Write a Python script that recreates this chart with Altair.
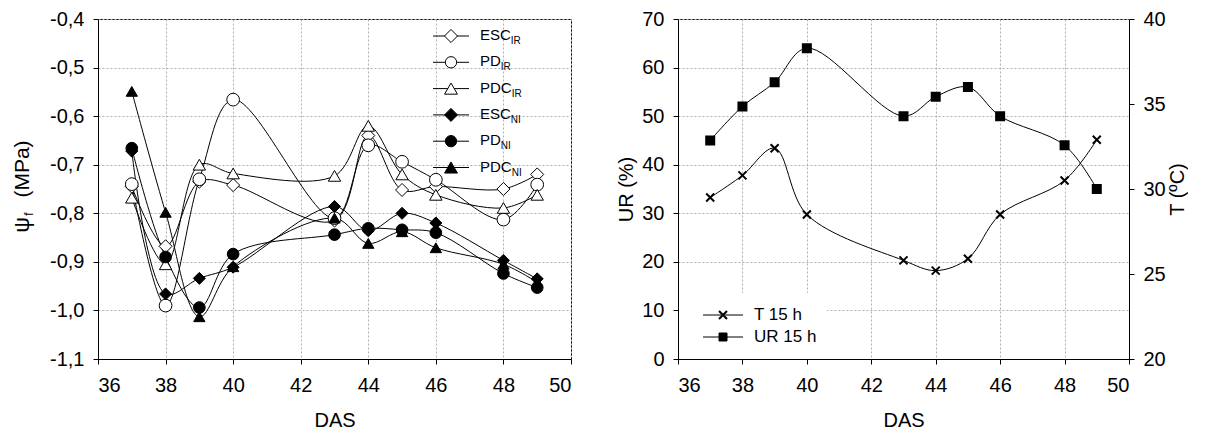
import altair as alt
import pandas as pd

# ---------------- data ----------------
days = [37, 38, 39, 40, 43, 44, 45, 46, 48, 49]
series_names = ["ESC_IR", "PD_IR", "PDC_IR", "ESC_NI", "PD_NI", "PDC_NI"]
esc_ir = [-0.745, -0.868, -0.735, -0.742, -0.815, -0.640, -0.752, -0.745, -0.750, -0.720]
pd_ir = [-0.740, -0.990, -0.730, -0.566, -0.810, -0.660, -0.694, -0.731, -0.813, -0.741]
pdc_ir = [-0.768, -0.905, -0.700, -0.718, -0.723, -0.620, -0.720, -0.762, -0.789, -0.762]
esc_ni = [-0.672, -0.966, -0.934, -0.911, -0.786, -0.836, -0.800, -0.820, -0.897, -0.935]
pd_ni = [-0.666, -0.890, -0.994, -0.884, -0.844, -0.831, -0.834, -0.840, -0.924, -0.953]
pdc_ni = [-0.549, -0.798, -1.013, -0.910, -0.810, -0.862, -0.838, -0.871, -0.905, -0.942]

ur_15h = [45, 52, 57, 64, 50, 54, 56, 50, 44, 35]
t_15h = [29.5, 30.8, 32.4, 28.5, 25.8, 25.2, 25.9, 28.5, 30.5, 32.9]

legend_main = ["ESC", "PD", "PDC", "ESC", "PD", "PDC"]
legend_sub = ["IR", "IR", "IR", "NI", "NI", "NI"]

# ---------------- style ----------------
FONT = "Liberation Sans"
shapes = ["diamond", "circle", "triangle-up", "diamond", "circle", "triangle-up"]
fills = ["white", "white", "white", "black", "black", "black"]
sizes = [170, 128, 165, 170, 128, 165]
CROSS = "M-1,-1L1,1M-1,1L1,-1"

rows = []
for name, vals in zip(series_names, [esc_ir, pd_ir, pdc_ir, esc_ni, pd_ni, pdc_ni]):
    for d, v in zip(days, vals):
        rows.append({"series": name, "DAS": d, "psi": v})
left_df = pd.DataFrame(rows)
right_df = pd.DataFrame({"DAS": days, "UR": ur_15h, "T": t_15h})
one = pd.DataFrame({"a": [0]})

W_L, W_R, H = 473, 451, 340
INTERP = "catmull-rom"
GRID = "#b0b0b0"

x_scale = alt.Scale(domain=[36, 50], nice=False, zero=False)
x_axis = alt.Axis(values=list(range(36, 51, 2)), title="DAS", grid=True,
                  gridDash=[2, 2], gridColor=GRID, labelPadding=11, titlePadding=15)

psi_axis = alt.Axis(values=[-1.1, -1.0, -0.9, -0.8, -0.7, -0.6, -0.5, -0.4], title=None,
                    grid=True, gridDash=[2, 2], gridColor=GRID, labelPadding=9,
                    labelExpr="'-' + replace(format(abs(datum.value), '.1f'), '.', ',')")

lines_left = alt.Chart(left_df).mark_line(interpolate=INTERP, color="black", strokeWidth=1).encode(
    x=alt.X("DAS:Q", scale=x_scale, axis=x_axis),
    y=alt.Y("psi:Q", scale=alt.Scale(domain=[-1.1, -0.4], nice=False, zero=False), axis=psi_axis),
    detail="series:N",
)
points_left = alt.Chart(left_df).mark_point(filled=True, stroke="black", strokeWidth=1, opacity=1).encode(
    x=alt.X("DAS:Q", scale=x_scale),
    y=alt.Y("psi:Q"),
    shape=alt.Shape("series:N", scale=alt.Scale(domain=series_names, range=shapes), legend=None),
    fill=alt.Fill("series:N", scale=alt.Scale(domain=series_names, range=fills), legend=None),
    size=alt.Size("series:N", scale=alt.Scale(domain=series_names, range=sizes), legend=None),
)

# y title with subscript
ytitle = [
    alt.Chart(one).mark_text(text="\u03c8", angle=270, fontSize=22, font=FONT, align="center",
                             baseline="middle", color="black").encode(x=alt.value(-76), y=alt.value(206)),
    alt.Chart(one).mark_text(text="f", angle=270, fontSize=12, font=FONT, align="center",
                             baseline="middle", color="black").encode(x=alt.value(-69), y=alt.value(195)),
    alt.Chart(one).mark_text(text="(MPa)", angle=270, fontSize=21, font=FONT, align="center",
                             baseline="middle", color="black").encode(x=alt.value(-75), y=alt.value(150)),
]

# left legend
main_w = {"ESC": 30.8, "PD": 20.8, "PDC": 31.7}
leg_left = []
for i in range(6):
    yy = 17 + 26.3 * i
    leg_left.append(alt.Chart(one).mark_rule(color="black", strokeWidth=1).encode(
        x=alt.value(335), x2=alt.value(371), y=alt.value(yy)))
    leg_left.append(alt.Chart(one).mark_point(shape=shapes[i], fill=fills[i], filled=True, stroke="black",
                                              strokeWidth=1, opacity=1, size=sizes[i]).encode(
        x=alt.value(353), y=alt.value(yy)))
    leg_left.append(alt.Chart(one).mark_text(text=legend_main[i], align="left", baseline="middle",
                                             fontSize=15, font=FONT, color="black").encode(
        x=alt.value(382), y=alt.value(yy - 1)))
    leg_left.append(alt.Chart(one).mark_text(text=legend_sub[i], align="left", baseline="middle",
                                             fontSize=10, font=FONT, color="black").encode(
        x=alt.value(382 + main_w[legend_main[i]]), y=alt.value(yy + 5)))

left = alt.layer(lines_left, points_left, *ytitle, *leg_left).properties(width=W_L, height=H)

# ---------------- right panel ----------------
ur_axis = alt.Axis(values=list(range(0, 71, 10)), title="UR (%)", grid=True, gridDash=[2, 2],
                   gridColor=GRID, labelPadding=9, titlePadding=5)
t_axis = alt.Axis(values=[20, 25, 30, 35, 40], title="T (\u00baC)", orient="right", grid=False,
                  labelPadding=9, titlePadding=2, titleAngle=270, titleBaseline="top")

ur_line = alt.Chart(right_df).mark_line(interpolate=INTERP, color="black", strokeWidth=1).encode(
    x=alt.X("DAS:Q", scale=x_scale, axis=x_axis),
    y=alt.Y("UR:Q", scale=alt.Scale(domain=[0, 70], nice=False), axis=ur_axis),
)
ur_pts = alt.Chart(right_df).mark_point(shape="square", filled=True, fill="black", stroke="black",
                                        opacity=1, size=64).encode(
    x=alt.X("DAS:Q", scale=x_scale), y=alt.Y("UR:Q"))
t_line = alt.Chart(right_df).mark_line(interpolate=INTERP, color="black", strokeWidth=1).encode(
    x=alt.X("DAS:Q", scale=x_scale),
    y=alt.Y("T:Q", scale=alt.Scale(domain=[20, 40], nice=False, zero=False), axis=t_axis),
)
t_pts = alt.Chart(right_df).mark_point(shape=CROSS, filled=False, stroke="black", strokeWidth=2,
                                       opacity=1, size=64).encode(
    x=alt.X("DAS:Q", scale=x_scale), y=alt.Y("T:Q"))

ur_layer = alt.layer(ur_line, ur_pts)
t_layer = alt.layer(t_line, t_pts)

leg_right = [
    alt.Chart(one).mark_rect(color="white").encode(
        x=alt.value(1), x2=alt.value(149), y=alt.value(274), y2=alt.value(339)),
]
leg_items = [("T 15 h", CROSS, 2, 64, False), ("UR 15 h", "square", 1, 64, True)]
for i, (lab, shp, sw, sz, fl) in enumerate(leg_items):
    yy = 296 + 22 * i
    leg_right.append(alt.Chart(one).mark_rule(color="black", strokeWidth=1).encode(
        x=alt.value(25), x2=alt.value(65), y=alt.value(yy)))
    if fl:
        leg_right.append(alt.Chart(one).mark_point(shape=shp, filled=True, fill="black", stroke="black",
                                                   strokeWidth=sw, opacity=1, size=sz).encode(
            x=alt.value(45), y=alt.value(yy)))
    else:
        leg_right.append(alt.Chart(one).mark_point(shape=shp, filled=False, stroke="black",
                                                   strokeWidth=sw, opacity=1, size=sz).encode(
            x=alt.value(45), y=alt.value(yy)))
    leg_right.append(alt.Chart(one).mark_text(text=lab, align="left", baseline="middle", fontSize=17,
                                              font=FONT, color="black").encode(
        x=alt.value(76), y=alt.value(yy)))

right = alt.layer(ur_layer, t_layer, *leg_right).resolve_scale(y="independent").properties(
    width=W_R, height=H)

chart = alt.hconcat(left, right, spacing=44).properties(
    padding={"left": 2, "top": 0, "right": 0, "bottom": 0}
).configure(font=FONT).configure_view(stroke="black", strokeWidth=1).configure_axis(
    labelFont=FONT, titleFont=FONT, labelFontSize=20, titleFontSize=20, titleFontWeight="normal",
    labelColor="black", titleColor="black", domainColor="black", tickColor="black", tickSize=5,
    domainWidth=1, tickWidth=1,
)

chart.save("out.html", embed_options={"renderer": "svg", "actions": False})
